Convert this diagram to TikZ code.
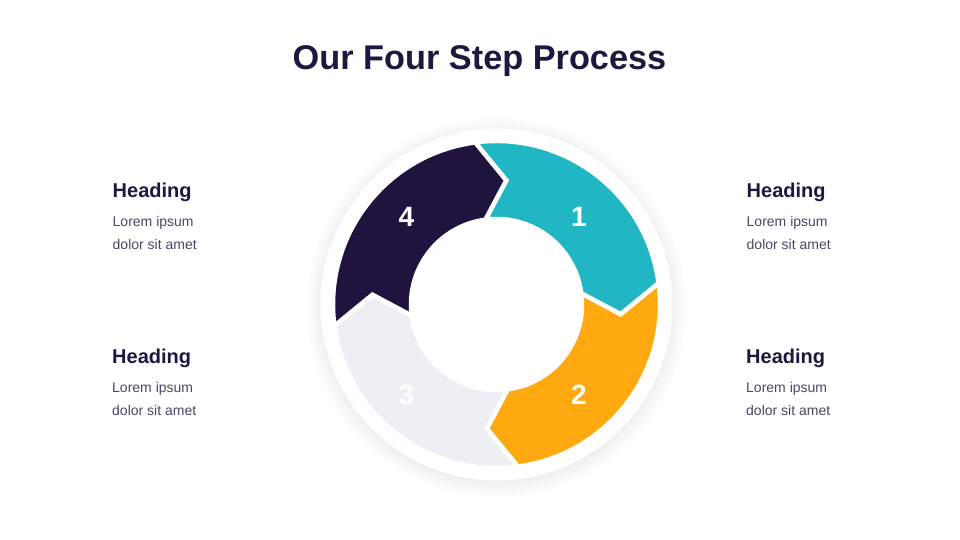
\documentclass[tikz,border=0pt]{standalone}
\definecolor{Navy}{HTML}{1E1840}
\definecolor{Teal}{HTML}{21B6C3}
\definecolor{Amber}{HTML}{FFA910}
\definecolor{Ink}{HTML}{1F143D}
\definecolor{Mist}{HTML}{EEEFF3}
\definecolor{Body}{HTML}{4B4766}
\usepackage{fontspec}
\setmainfont{Liberation Sans}
\usepackage{tikz}
\usetikzlibrary{positioning}

\begin{document}
\begin{tikzpicture}
    [x=1pt, y=1pt,
    title/.style={font=\fontsize{34.3}{40}\selectfont\bfseries, text=Navy},
    heading/.style={font=\fontsize{20}{24}\selectfont\bfseries, text=Navy, anchor=base west, inner sep=0pt},
    blurb/.style={font=\fontsize{14}{23}\selectfont, text=Body, align=left, anchor=base west, inner sep=0pt},
    number/.style={font=\fontsize{28}{32}\selectfont\bfseries, text=white}]

    \useasboundingbox (0,0) rectangle (960,540);
    \fill[white] (0,0) rectangle (960,540);

    \node[title] (title) at (479.5,479) {Our Four Step Process};

    \begin{scope}[shift={(496.5,235.5)}]
        % soft shadow
        \foreach \k in {1,...,16}
            \fill[black, opacity=0.0045] (0,-3) circle (174+\k);
        \fill[white] (0,0) circle (176);
        % ring segments
        \foreach \a/\col in {97.5/Teal, 7.5/Amber, -82.5/Mist, -172.5/Ink} {
            \pgfmathsetmacro\b{\a-90}
            \fill[\col, draw=white, line width=4.5pt, line join=miter]
                (\a:163.5) arc[start angle=\a, end angle=\b, radius=163.5]
                -- (\b-12:124.5) -- (\b:85.5)
                arc[start angle=\b, end angle=\a, radius=85.5]
                -- (\a-12:124.5) -- cycle;
        }
    \end{scope}

    \node[number] (n1) at (579,323.3) {1};
    \node[number] (n2) at (579,145) {2};
    \node[number] (n3) at (406.5,145) {3};
    \node[number] (n4) at (406.5,323.3) {4};

    % left column
    \node[heading] (h4) at (112.5,342.7) {Heading};
    \node[blurb] (t4) at (112.5,290) {Lorem ipsum\\dolor sit amet};
    \node[heading] (h3) at (112,176.7) {Heading};
    \node[blurb] (t3) at (112,124) {Lorem ipsum\\dolor sit amet};

    % right column
    \node[heading] (h1) at (746.5,342.7) {Heading};
    \node[blurb] (t1) at (746.5,290) {Lorem ipsum\\dolor sit amet};
    \node[heading] (h2) at (746,176.7) {Heading};
    \node[blurb] (t2) at (746,124) {Lorem ipsum\\dolor sit amet};
\end{tikzpicture}
\end{document}
